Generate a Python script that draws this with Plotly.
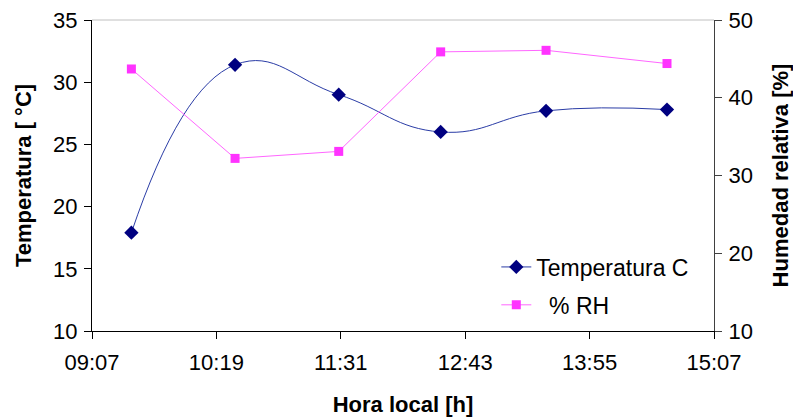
import plotly.graph_objects as go

# Local time of each reading (HH:MM)
hora = ["09:30", "10:30", "11:30", "12:29", "13:30", "14:40"]
temperatura_c = [17.9, 31.4, 29.0, 26.0, 27.7, 27.8]
humedad_rh = [43.7, 32.2, 33.1, 45.9, 46.1, 44.4]

# Time-axis ticks (every 0.05 day = 72 min starting 09:07:12)
tick_vals = ["09:07:12", "10:19:12", "11:31:12", "12:43:12", "13:55:12", "15:07:12"]
tick_text = ["09:07", "10:19", "11:31", "12:43", "13:55", "15:07"]

DAY = "2000-01-01 "
x = [DAY + h for h in hora]
xt = [DAY + t for t in tick_vals]

FONT = "Arial, Liberation Sans, sans-serif"

fig = go.Figure()
fig.add_trace(go.Scatter(
    x=x, y=temperatura_c, name="Temperatura C", mode="lines+markers",
    line=dict(color="#2a3ca6", width=1, shape="spline", smoothing=1.3),
    marker=dict(symbol="diamond", size=11, color="#000080"),
    legendgroup="t", yaxis="y",
))
fig.add_trace(go.Scatter(
    x=x, y=humedad_rh, name="\u00a0\u00a0% RH", mode="lines+markers",
    line=dict(color="#ff66ff", width=1),
    marker=dict(symbol="square", size=9, color="#ff33ff"),
    legendgroup="h", yaxis="y2",
))

fig.update_layout(
    width=793, height=420,
    margin=dict(l=92, r=79, t=20, b=89),
    paper_bgcolor="white", plot_bgcolor="white",
    font=dict(family=FONT, size=22, color="black"),
    showlegend=True,
    legend=dict(x=0.65, y=0.275, xanchor="left", yanchor="top",
                bgcolor="rgba(0,0,0,0)", font=dict(size=23),
                tracegroupgap=5),
    xaxis=dict(
        range=[xt[0], xt[-1]], tickvals=xt, ticktext=tick_text,
        showgrid=False, zeroline=False, automargin=False,
        showline=True, linecolor="black", linewidth=1,
        ticks="outside", ticklen=7, tickcolor="black", ticklabelstandoff=5,
        title=dict(text="<b>Hora local [h]</b>", font=dict(size=22), standoff=22),
    ),
    yaxis=dict(
        range=[10, 35], dtick=5, showgrid=False, zeroline=False, automargin=False,
        showline=True, linecolor="black", linewidth=1,
        ticks="outside", ticklen=7, tickcolor="black", ticklabelstandoff=2,
        title=dict(text="<b>Temperatura [ °C]</b>", font=dict(size=22), standoff=15),
    ),
    yaxis2=dict(
        range=[10, 50], dtick=10, overlaying="y", side="right",
        showgrid=False, zeroline=False, automargin=False,
        showline=True, linecolor="#404040", linewidth=1,
        ticks="outside", ticklen=7, tickcolor="#404040", ticklabelstandoff=2,
        title=dict(text="<b>Humedad relativa [%]</b>", font=dict(size=22), standoff=22),
    ),
    shapes=[dict(type="line", xref="paper", yref="paper", x0=0, x1=1, y0=1, y1=1,
                 line=dict(color="#c0c0c0", width=1))],
)

fig.write_html("out.html")
